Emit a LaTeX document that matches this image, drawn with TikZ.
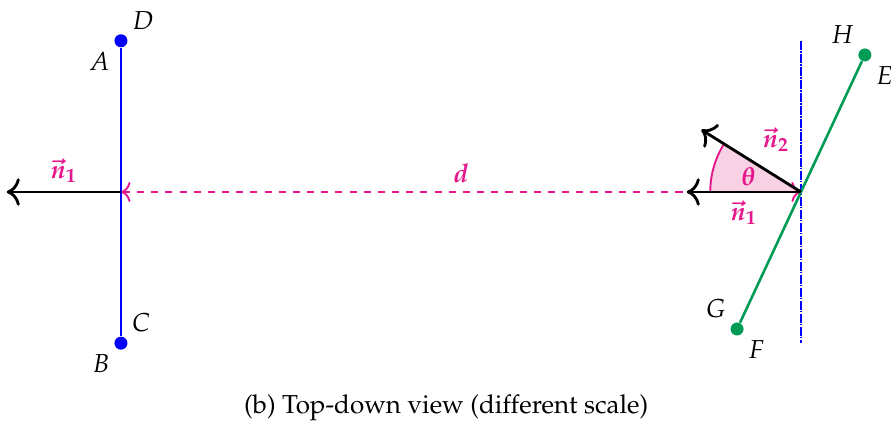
\documentclass[tikz,border=0pt]{standalone}
\usepackage[T1]{fontenc}
\usepackage{amsmath,amssymb}
\usepackage{mathpazo}
\usepackage{bm}
\usepackage{xcolor}
\usepackage{tikz}
\usetikzlibrary{
    arrows,
    arrows.meta,
    calc,
    positioning
}
\definecolor{viewblue}{HTML}{0000FF}
\definecolor{viewgreen}{HTML}{009B55}
\definecolor{viewpink}{HTML}{E6168C}
\definecolor{viewfill}{HTML}{F8D2E4}
\tikzstyle{arrow}=[very thick,-{To[scale=1.3]},draw=black]

\begin{document}
\begin{tikzpicture}[
    font=\fontsize{11}{13.6}\selectfont,
    ptblue/.style={
        circle,
        fill=viewblue,
        inner sep=0pt,
        minimum size=5.5pt
    },
    ptgreen/.style={
        circle,
        fill=viewgreen,
        inner sep=0pt,
        minimum size=5.5pt
    },
    ptlabel/.style={
        inner sep=2.5pt
    },
    veclabel/.style={
        text=viewpink
    }
]
\useasboundingbox (-1.80,-3.60) rectangle (11.46,2.857);

% left panel
\coordinate (pivL) at (0,0);
\coordinate (n1Ltip) at (-1.7,0);
\node[ptblue] (ADpt) at (0,2.25) {};
\node[ptblue] (BCpt) at (0,-2.25) {};

% right panel
\coordinate (pivR) at (10.12,0);
\coordinate (n1Rtip) at ($(pivR)+(180:1.7)$);
\coordinate (n2Rtip) at ($(pivR)+(148:1.75)$);
\coordinate (planeTop) at ($(pivR)+(0,2.25)$);
\coordinate (planeBot) at ($(pivR)+(0,-2.25)$);
\node[ptgreen] (HEpt) at ($(pivR)+(65:2.25)$) {};
\node[ptgreen] (GFpt) at ($(pivR)+(245:2.25)$) {};

% angle between normals
\fill[viewfill] (pivR) -- ($(pivR)+(180:1.35)$) arc (180:148:1.35) -- cycle;
\draw[viewpink,thick] ($(pivR)+(180:1.35)$) arc (180:148:1.35);
\node[veclabel] (theta) at ($(pivR)+(164:0.82)$) {$\bm{\theta}$};

\draw[thick,dashed,{To[scale=1.2]}-{To[scale=1.2]},draw=viewpink] (pivL) -- node[veclabel,above]{$\bm{d}$} (pivR);

\draw[line width=1.1pt,draw=viewblue] (ADpt) -- (BCpt);
\draw[line width=1pt,draw=viewblue,dash pattern=on 4pt off 0.5pt on 0.5pt off 0.5pt] (planeTop) -- (planeBot);
\draw[line width=1.1pt,draw=viewgreen] (GFpt) -- (HEpt);

\draw[arrow] (pivL) -- node[veclabel,above]{$\bm{\vec{n}_1}$} (n1Ltip);
\draw[arrow] (pivR) -- node[veclabel,below]{$\bm{\vec{n}_1}$} (n1Rtip);
\draw[arrow] (pivR) -- (n2Rtip);
\node[veclabel] (n2lab) at ($(pivR)+(-0.37,0.77)$) {$\bm{\vec{n}_2}$};

\node[ptlabel,above right=0pt of ADpt] (labD) {$D$};
\node[ptlabel,below left=0pt of ADpt] (labA) {$A$};
\node[ptlabel,above right=0pt of BCpt] (labC) {$C$};
\node[ptlabel,below left=0pt of BCpt] (labB) {$B$};
\node[ptlabel,above left=0pt of HEpt] (labH) {$H$};
\node[ptlabel,below right=0pt of HEpt] (labE) {$E$};
\node[ptlabel,above left=0pt of GFpt] (labG) {$G$};
\node[ptlabel,below right=0pt of GFpt] (labF) {$F$};

\node (caption) at (4.84,-3.21) {(b) Top-down view (different scale)};
\end{tikzpicture}
\end{document}
